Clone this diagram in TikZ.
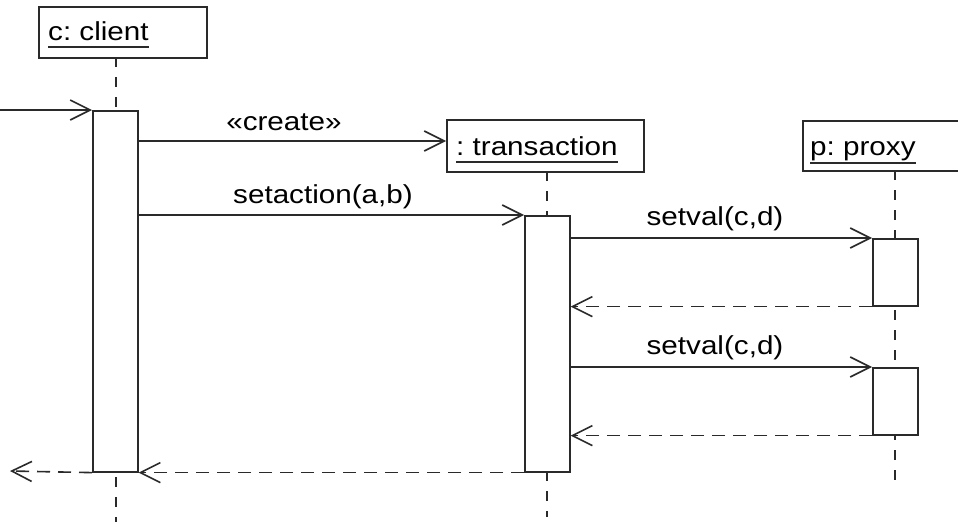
\documentclass[tikz,border=0pt]{standalone}
\usepackage{fontspec}
\setmainfont{Liberation Sans}[FakeStretch=1.14]
\usetikzlibrary{arrows.meta}
\definecolor{ln}{HTML}{2A2A2A}
\frenchspacing
\begin{document}
\begin{tikzpicture}[x=1pt,y=-1pt,
  every node/.style={font=\fontsize{26}{30}\selectfont\frenchspacing, text=black},
  objbox/.style={draw=ln, line width=1.6pt, rectangle, fill=white, inner sep=0pt, anchor=north west},
  act/.style={draw=ln, line width=1.6pt, rectangle, fill=white, inner sep=0pt, anchor=north west, minimum width=45pt},
  life/.style={draw=ln, line width=1.6pt, dash pattern=on 10pt off 10pt},
  msg/.style={draw=ln, line width=1.6pt, -{Straight Barb[length=20pt,width=20pt]}},
  ret/.style={msg, dash pattern=on 13pt off 8pt},
  lbl/.style={inner sep=0pt, anchor=base},
  obj/.style={inner sep=0pt, anchor=base west},
  uline/.style={draw=ln, line width=1.6pt}]
\clip (0,0) rectangle (958,522);
\fill[white] (0,0) rectangle (958,522);
% object boxes
\node[objbox, minimum width=168pt, minimum height=51pt] (cbox) at (38,6) {};
\node[obj] (ct) at (48,40) {c: client};
\draw[uline] ([yshift=-7pt]ct.base west) -- ([yshift=-7pt]ct.base east);
\node[objbox, minimum width=197pt, minimum height=52pt] (tbox) at (446,119) {};
\node[obj] (tt) at (456,155) {: transaction};
\draw[uline] ([yshift=-7pt]tt.base west) -- ([yshift=-7pt]tt.base east);
\node[objbox, minimum width=200pt, minimum height=50pt] (pbox) at (802,120) {};
\node[obj] (pt) at (810,155) {p: proxy};
\draw[uline] ([yshift=-8pt]pt.base west) -- ([yshift=-8pt]pt.base east);
% lifelines
\coordinate (cl0) at (116,57); \coordinate (cl1) at (116,522);
\coordinate (tl0) at (547,171); \coordinate (tl1) at (547,517);
\coordinate (pl0) at (895,170); \coordinate (pl1) at (895,485);
\draw[life] (cl0) -- (cl1);
\draw[life] (tl0) -- (tl1);
\draw[life] (pl0) -- (pl1);
% activations
\node[act, minimum height=361pt] (ca) at (92,110) {};
\node[act, minimum height=256pt] (ta) at (524,215) {};
\node[act, minimum height=67pt] (pa1) at (872,238) {};
\node[act, minimum height=67pt] (pa2) at (872,367) {};
% messages
\coordinate (fs) at (0,110);
\draw[msg] (fs) -- (ca.north west);
\draw[msg] (ca.east |- 0,141) -- (tbox.west |- 0,141);
\node[lbl] (l1) at (284,130) {«create»};
\draw[msg] (ca.east |- ta.north) -- (ta.north west);
\node[lbl] (l2) at (323,203) {setaction(a,b)};
\draw[msg] (ta.east |- pa1.north) -- (pa1.north west);
\node[lbl] (l3) at (715,225) {setval(c,d)};
\draw[ret] (pa1.south west) -- (ta.east |- pa1.south);
\draw[msg] (ta.east |- pa2.north) -- (pa2.north west);
\node[lbl] (l4) at (715,354) {setval(c,d)};
\draw[ret] (pa2.south west) -- (ta.east |- pa2.south);
\draw[ret] (ta.south west) -- (ca.south east);
\coordinate (fe) at (10,471);
\draw[ret] (ca.south west) -- (fe);
\end{tikzpicture}
\end{document}
